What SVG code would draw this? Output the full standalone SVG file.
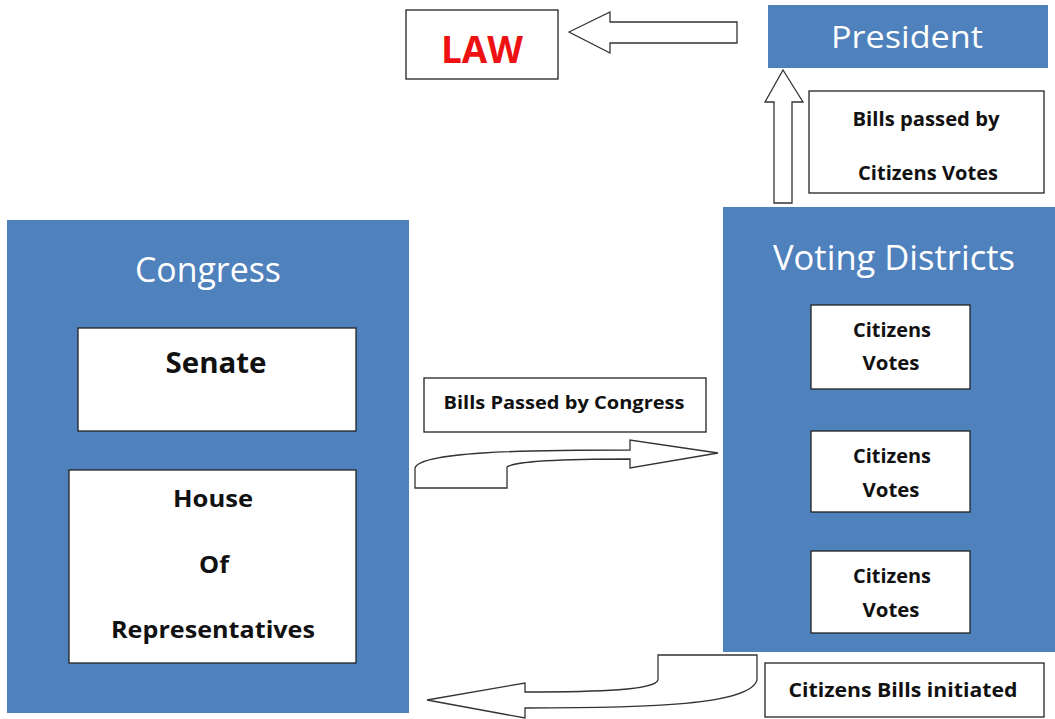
<svg xmlns="http://www.w3.org/2000/svg" width="1055" height="719" viewBox="0 0 1055 719">
<style>
.blue{fill:#4f81bd;}
.box{fill:#fff;stroke:#222;stroke-width:1.3;}
.arrow{fill:#fff;stroke:#333;stroke-width:1.3;stroke-linejoin:miter;}
.t{font-family:"Open Sans","Liberation Sans",sans-serif;text-anchor:middle;}
.wt{fill:#fff;}
.bk{fill:#111;font-weight:bold;}
</style>
<rect width="1055" height="719" fill="#fff"/>
<g id="connectors">
<polygon class="arrow" points="569,32 610,12 610,22 737,22 737,43 610,43 610,53"/>
<polygon class="arrow" points="783,70 803,102 792,102 792,203 774,203 774,102 765,102"/>
<path class="arrow" d="M718,453 L630,440 L630,450 C520,450 420,452 415,468 L415,488 L507,488 L507,467 C515,461 560,459 630,459 L630,468 Z"/>
<path class="arrow" d="M427,700 L525,683 L525,692 C600,692 655,690 658,680 L658,655 L757,655 L757,680 C750,705 650,708 525,708 L525,718 Z"/>
</g>
<g id="law">
<rect class="box" x="406" y="10" width="152" height="69"/>
<text class="t" x="482" y="63" font-size="38" font-weight="bold" fill="#ee1111" textLength="82" lengthAdjust="spacingAndGlyphs">LAW</text>
</g>
<g id="president">
<rect class="blue" x="768" y="5" width="280" height="63"/>
<text class="t wt" x="907" y="48" font-size="31" textLength="152" lengthAdjust="spacingAndGlyphs">President</text>
</g>
<g id="label-citizens-votes">
<rect class="box" x="809" y="91" width="235" height="102"/>
<text class="t bk" x="926" y="126" font-size="19" textLength="147" lengthAdjust="spacingAndGlyphs">Bills passed by</text>
<text class="t bk" x="928" y="180" font-size="19" textLength="140" lengthAdjust="spacingAndGlyphs">Citizens Votes</text>
</g>
<g id="congress">
<rect class="blue" x="7" y="220" width="402" height="493"/>
<text class="t wt" x="208" y="282" font-size="34" textLength="146" lengthAdjust="spacingAndGlyphs">Congress</text>
</g>
<g id="senate">
<rect class="box" x="78" y="328" width="278" height="103"/>
<text class="t bk" x="216" y="373" font-size="28" textLength="101" lengthAdjust="spacingAndGlyphs">Senate</text>
</g>
<g id="house">
<rect class="box" x="69" y="470" width="287" height="193"/>
<text class="t bk" x="213" y="507" font-size="24" textLength="80" lengthAdjust="spacingAndGlyphs">House</text>
<text class="t bk" x="214" y="573" font-size="24" textLength="30" lengthAdjust="spacingAndGlyphs">Of</text>
<text class="t bk" x="213" y="638" font-size="24" textLength="204" lengthAdjust="spacingAndGlyphs">Representatives</text>
</g>
<g id="voting-districts">
<rect class="blue" x="723" y="207" width="332" height="445"/>
<text class="t wt" x="894" y="270" font-size="34" textLength="242" lengthAdjust="spacingAndGlyphs">Voting Districts</text>
</g>
<g id="citizens-votes-1">
<rect class="box" x="811" y="305" width="159" height="84"/>
<text class="t bk" x="892" y="337" font-size="20" textLength="78" lengthAdjust="spacingAndGlyphs">Citizens</text>
<text class="t bk" x="891" y="370" font-size="20" textLength="57" lengthAdjust="spacingAndGlyphs">Votes</text>
</g>
<g id="citizens-votes-2">
<rect class="box" x="811" y="431" width="159" height="81"/>
<text class="t bk" x="892" y="463" font-size="20" textLength="78" lengthAdjust="spacingAndGlyphs">Citizens</text>
<text class="t bk" x="891" y="497" font-size="20" textLength="57" lengthAdjust="spacingAndGlyphs">Votes</text>
</g>
<g id="citizens-votes-3">
<rect class="box" x="811" y="551" width="159" height="82"/>
<text class="t bk" x="892" y="583" font-size="20" textLength="78" lengthAdjust="spacingAndGlyphs">Citizens</text>
<text class="t bk" x="891" y="617" font-size="20" textLength="57" lengthAdjust="spacingAndGlyphs">Votes</text>
</g>
<g id="label-bills-congress">
<rect class="box" x="424" y="378" width="282" height="54"/>
<text class="t bk" x="564" y="409" font-size="18" textLength="241" lengthAdjust="spacingAndGlyphs">Bills Passed by Congress</text>
</g>
<g id="label-citizens-bills">
<rect class="box" x="765" y="663" width="279" height="54"/>
<text class="t bk" x="903" y="697" font-size="19" textLength="229" lengthAdjust="spacingAndGlyphs">Citizens Bills initiated</text>
</g>
</svg>
